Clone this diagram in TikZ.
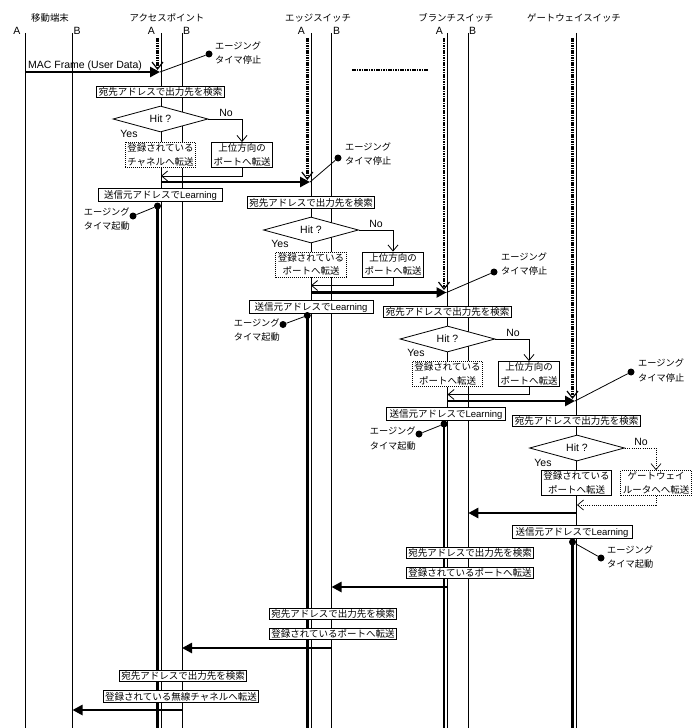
\documentclass[tikz,border=0pt]{standalone}
\usepackage{fontspec}
\setmainfont{Liberation Sans}
\newfontfamily\jp{Noto Sans CJK JP}
\usetikzlibrary{arrows.meta,shapes.geometric}
\newcommand\J[1]{{\jp #1}}
\newcommand\bfs{\fontsize{9.5bp}{13.5bp}\selectfont}
\newcommand\tfs{\fontsize{9.4bp}{11bp}\selectfont}
\newcommand\cfs{\fontsize{9.2bp}{14.5bp}\selectfont}
\newcommand\lfs{\fontsize{10.5bp}{12bp}\selectfont}
\begin{document}
\begin{tikzpicture}[x=1bp,y=-1bp,
  lbox/.style={draw, fill=white, line width=0.8bp, inner xsep=2bp, inner ysep=1.4bp, font=\bfs, align=center},
  dbox/.style={lbox, dash pattern=on 1bp off 1bp},
  lrn/.style={lbox, minimum width=124bp},
  hit/.style={diamond, draw, fill=white, line width=0.8bp, aspect=4, minimum width=95bp, minimum height=26bp, inner sep=0pt, font=\lfs},
  lab/.style={font=\lfs, inner sep=0pt},
  ttl/.style={font=\tfs, inner sep=0pt},
  note/.style={font=\cfs, inner sep=0pt, align=left},
  dot/.style={circle, fill, inner sep=0pt, minimum size=7bp},
  life/.style={line width=0.8bp},
  thl/.style={line width=2.6bp},
  dotl/.style={line width=2.4bp, dash pattern=on 1.6bp off 0.8bp},
  msg/.style={line width=2.6bp, -{Triangle[length=10bp,width=10bp]}},
  vtip/.style={-{Straight Barb[length=7bp,width=11bp,line width=1.2bp]}},
  tarr/.style={line width=0.8bp, -{Straight Barb[length=6bp,width=10bp]}},
  darr/.style={line width=0.7bp, dash pattern=on 1bp off 1.2bp, -{Straight Barb[length=6bp,width=10bp]}},
  call/.style={line width=0.8bp}
]
\fill[white] (0,0) rectangle (699,728);
\useasboundingbox (0,0) rectangle (699,728);

% titles
\node[ttl] (tmt) at (50,18) {\J{移動端末}};
\node[ttl] (tap) at (167,18) {\J{アクセスポイント}};
\node[ttl] (tes) at (318,18) {\J{エッジスイッチ}};
\node[ttl] (tbs) at (456,18) {\J{ブランチスイッチ}};
\node[ttl] (tgw) at (574,18) {\J{ゲートウェイスイッチ}};
\node[lab, anchor=east] (mtA) at (20.5,31) {A};
\node[lab, anchor=west] (mtB) at (73.5,31) {B};
\node[lab, anchor=east] (apA) at (155,31) {A};
\node[lab, anchor=west] (apB) at (183,31) {B};
\node[lab, anchor=east] (esA) at (305,31) {A};
\node[lab, anchor=west] (esB) at (333,31) {B};
\node[lab, anchor=east] (bsA) at (443,31) {A};
\node[lab, anchor=west] (bsB) at (469,31) {B};

% lifelines
\foreach \x/\n in {25/mta,72.5/mtb,161/apa,182/apb,311/esa,331.5/esb,447.5/bsa,468.3/bsb,576/gwa}{
  \coordinate (\n t) at (\x,33);
  \coordinate (\n b) at (\x,728);
  \draw[life] (\n t) -- (\n b);
}
% thick lifelines after learning
\coordinate (apk0) at (157.5,206); \coordinate (apk1) at (157.5,728);
\coordinate (esk0) at (307.3,315.5); \coordinate (esk1) at (307.3,728);
\coordinate (bsk0) at (444,424); \coordinate (bsk1) at (444,728);
\coordinate (gwk0) at (572.5,542); \coordinate (gwk1) at (572.5,728);
\draw[thl] (apk0) -- (apk1);
\draw[thl] (esk0) -- (esk1);
\draw[thl] (bsk0) -- (bsk1);
\draw[thl] (gwk0) -- (gwk1);

% dotted (waiting) lines
\coordinate (apd0) at (157.5,38); \coordinate (apd1) at (157.5,70);
\coordinate (esd0) at (307.3,38); \coordinate (esd1) at (307.3,180);
\coordinate (bsd0) at (444,38); \coordinate (bsd1) at (444,290);
\coordinate (gwd0) at (572.5,38); \coordinate (gwd1) at (572.5,399);
\draw[dotl, vtip] (apd0) -- (apd1);
\draw[dotl, vtip] (esd0) -- (esd1);
\draw[dotl, vtip] (bsd0) -- (bsd1);
\draw[dotl, vtip] (gwd0) -- (gwd1);
\coordinate (dh1) at (352,70); \coordinate (dh2) at (428,70);
\draw[dotl] (dh1) -- (dh2);

% MAC frame
\coordinate (m0a) at (25,72); \coordinate (m0b) at (160,72);
\draw[msg] (m0a) -- (m0b);
\node[lab, anchor=base west] (m0l) at (28,69) {MAC Frame (User Data)};
\node[dot] (apsd) at (209,54) {};
\draw[call] (m0b) -- (apsd);
\node[note, anchor=west] (apst) at (215,53) {\J{エージング}\\\J{タイマ停止}};

% ===== Access point stage
\node[lbox] (apq) at (160.5,92) {\J{宛先アドレスで出力先を検索}};
\node[hit] (aph) at (160.5,119) {Hit ?};
\node[lab] (apno) at (226,113) {No};
\node[lab] (apyes) at (129,134) {Yes};
\node[dbox] (apy) at (160.5,155) {\J{登録されている}\\\J{チャネルへ転送}};
\node[lbox] (apn) at (242,155) {\J{上位方向の}\\\J{ポートへ転送}};
\draw[tarr] (aph.east) -| (apn.north);
\coordinate (apr) at (161,176);
\draw[tarr] (apn.south) |- (apr);
\coordinate (m1a) at (161,182); \coordinate (m1b) at (310,182);
\draw[msg] (m1a) -- (m1b);
\node[dot] (essd) at (338,158) {};
\draw[call] (m1b) -- (essd);
\node[note, anchor=west] (esst) at (345,154) {\J{エージング}\\\J{タイマ停止}};
\node[lrn] (apl) at (160.5,195) {\J{送信元アドレスで}Learning};
\node[dot] (apld) at (apk0) {};
\node[dot] (apld2) at (133,216) {};
\draw[call] (apld) -- (apld2);
\node[note, anchor=east] (aplt) at (130,219) {\J{エージング}\\\J{タイマ起動}};

% ===== Edge switch stage
\node[lbox] (esq) at (311,202.5) {\J{宛先アドレスで出力先を検索}};
\node[hit] (esh) at (311,230) {Hit ?};
\node[lab] (esno) at (376,224) {No};
\node[lab] (esyes) at (280,244) {Yes};
\node[dbox] (esy) at (311,264.5) {\J{登録されている}\\\J{ポートへ転送}};
\node[lbox] (esn) at (393,264.5) {\J{上位方向の}\\\J{ポートへ転送}};
\draw[tarr] (esh.east) -| (esn.north);
\coordinate (esr) at (311,285.5);
\draw[tarr] (esn.south) |- (esr);
\coordinate (m2a) at (311,292.5); \coordinate (m2b) at (446.5,292.5);
\draw[msg] (m2a) -- (m2b);
\node[dot] (bssd) at (494,272) {};
\draw[call] (m2b) -- (bssd);
\node[note, anchor=west] (bsst) at (501,264) {\J{エージング}\\\J{タイマ停止}};
\node[lrn] (esl) at (311,307) {\J{送信元アドレスで}Learning};
\node[dot] (esld) at (esk0) {};
\node[dot] (esld2) at (283,324.5) {};
\draw[call] (esld) -- (esld2);
\node[note, anchor=east] (eslt) at (280,330) {\J{エージング}\\\J{タイマ起動}};

% ===== Branch switch stage
\node[lbox] (bsq) at (447.5,312) {\J{宛先アドレスで出力先を検索}};
\node[hit] (bsh) at (447.5,339) {Hit ?};
\node[lab] (bsno) at (513,333) {No};
\node[lab] (bsyes) at (416,353) {Yes};
\node[dbox] (bsy) at (447.5,374) {\J{登録されている}\\\J{ポートへ転送}};
\node[lbox] (bsn) at (529,374) {\J{上位方向の}\\\J{ポートへ転送}};
\draw[tarr] (bsh.east) -| (bsn.north);
\coordinate (bsr) at (447.5,394.5);
\draw[tarr] (bsn.south) |- (bsr);
\coordinate (m3a) at (447.5,401); \coordinate (m3b) at (575,401);
\draw[msg] (m3a) -- (m3b);
\node[dot] (gwsd) at (631,372) {};
\draw[call] (m3b) -- (gwsd);
\node[note, anchor=west] (gwst) at (638,370.5) {\J{エージング}\\\J{タイマ停止}};
\node[lbox, minimum width=119bp] (bsl) at (446,414) {\J{送信元アドレスで}Learning};
\node[dot] (bsld) at (bsk0) {};
\node[dot] (bsld2) at (419,434) {};
\draw[call] (bsld) -- (bsld2);
\node[note, anchor=east] (bslt) at (416,438.5) {\J{エージング}\\\J{タイマ起動}};

% ===== Gateway switch stage
\node[lbox] (gwq) at (576.5,421) {\J{宛先アドレスで出力先を検索}};
\node[hit] (gwh) at (577,448) {Hit ?};
\node[lab] (gwno) at (641,442) {No};
\node[lab] (gwyes) at (543,463) {Yes};
\node[lbox] (gwy) at (576.5,483) {\J{登録されている}\\\J{ポートへ転送}};
\node[dbox] (gwn) at (656,483) {\J{ゲートウェイ}\\\J{ルータへへ転送}};
\draw[darr] (gwh.east) -| (gwn.north);
\coordinate (gwr) at (577,505);
\draw[darr] (gwn.south) |- (gwr);
\coordinate (m4a) at (576,513); \coordinate (m4b) at (468.3,513);
\draw[msg] (m4a) -- (m4b);
\node[lbox, minimum width=120bp] (gwl) at (572,532) {\J{送信元アドレスで}Learning};
\node[dot] (gwld) at (gwk0) {};
\node[dot] (gwld2) at (601,558) {};
\draw[call] (gwld) -- (gwld2);
\node[note, anchor=west] (gwlt) at (607,557) {\J{エージング}\\\J{タイマ起動}};

% ===== return path
\node[lbox] (bsq2) at (470,553) {\J{宛先アドレスで出力先を検索}};
\node[lbox] (bsf) at (470,573) {\J{登録されているポートへ転送}};
\coordinate (m5a) at (447.5,587); \coordinate (m5b) at (331.5,587);
\draw[msg] (m5a) -- (m5b);
\node[lbox] (esq2) at (333,614) {\J{宛先アドレスで出力先を検索}};
\node[lbox] (esf) at (333,634) {\J{登録されているポートへ転送}};
\coordinate (m6a) at (331.5,648); \coordinate (m6b) at (182,648);
\draw[msg] (m6a) -- (m6b);
\node[lbox] (apq2) at (183,676) {\J{宛先アドレスで出力先を検索}};
\node[lbox] (apf) at (181,696.5) {\J{登録されている無線チャネルへ転送}};
\coordinate (m7a) at (182,710); \coordinate (m7b) at (72.5,710);
\draw[msg] (m7a) -- (m7b);
\end{tikzpicture}
\end{document}
